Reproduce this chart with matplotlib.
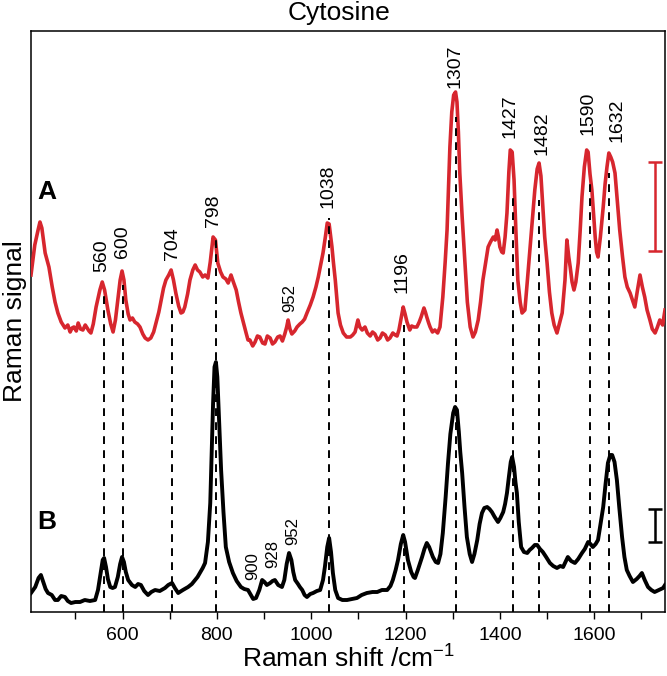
import numpy as np
import matplotlib
matplotlib.use('Agg')
import matplotlib.pyplot as plt

plt.rcParams['font.family'] = ['Liberation Sans', 'DejaVu Sans']
plt.rcParams['mathtext.default'] = 'regular'

# ── 데이터 (그림에서 읽은 값, 임의 단위) ─────────────────────────
shift_a = [406, 414, 421, 425, 429, 436, 444, 451, 457, 463, 470, 478, 484, 489,
           493, 497, 502, 506, 511, 516, 521, 525, 529, 533, 538, 544, 552, 557,
           562, 569, 575, 580, 585, 590, 595, 599, 603, 607, 612, 616, 621, 626,
           632, 637, 643, 648, 654, 660, 666, 671, 677, 682, 687, 692, 698, 703,
           708, 713, 719, 724, 728, 732, 738, 743, 749, 754, 759, 764, 770, 775,
           781, 786, 792, 797, 802, 808, 813, 819, 824, 830, 835, 841, 846, 851,
           857, 862, 866, 870, 876, 881, 886, 891, 897, 902, 907, 913, 918, 923,
           929, 934, 939, 944, 948, 951, 955, 959, 965, 970, 976, 981, 986, 991,
           998, 1004, 1010, 1015, 1020, 1025, 1030, 1034, 1038, 1044, 1047, 1051,
           1054, 1057, 1062, 1068, 1075, 1083, 1088, 1093, 1099, 1103, 1108, 1114,
           1119, 1125, 1130, 1135, 1141, 1146, 1151, 1157, 1162, 1167, 1173, 1178,
           1182, 1186, 1191, 1195, 1199, 1203, 1209, 1213, 1218, 1224, 1229, 1233,
           1239, 1242, 1245, 1249, 1252, 1257, 1262, 1268, 1273, 1279, 1284, 1288,
           1291, 1294, 1298, 1302, 1306, 1309, 1312, 1315, 1320, 1326, 1331, 1337,
           1343, 1348, 1354, 1359, 1364, 1370, 1375, 1380, 1386, 1390, 1394, 1397,
           1400, 1404, 1407, 1411, 1415, 1419, 1422, 1426, 1430, 1434, 1438, 1443,
           1447, 1453, 1458, 1464, 1469, 1474, 1479, 1483, 1487, 1491, 1495, 1500,
           1505, 1510, 1515, 1521, 1526, 1532, 1535, 1538, 1542, 1546, 1549, 1553,
           1557, 1561, 1566, 1570, 1574, 1579, 1584, 1587, 1591, 1595, 1599, 1602,
           1605, 1608, 1613, 1619, 1623, 1627, 1631, 1635, 1639, 1644, 1649, 1654,
           1660, 1665, 1670, 1676, 1681, 1686, 1691, 1697, 1702, 1707, 1712, 1718,
           1723, 1729, 1734, 1739, 1745, 1750]
signal_a = [337, 367, 382, 390, 384, 359, 345, 325, 310, 299, 290, 284, 287, 280,
            284, 285, 281, 289, 283, 282, 287, 284, 281, 279, 288, 305, 322, 330,
            322, 302, 288, 280, 292, 312, 332, 341, 332, 312, 298, 292, 294, 290,
            288, 285, 278, 274, 272, 274, 280, 289, 300, 312, 324, 332, 337, 342,
            332, 319, 306, 299, 300, 305, 318, 332, 342, 347, 342, 340, 335, 337,
            334, 350, 375, 372, 349, 340, 335, 333, 329, 337, 330, 322, 310, 299,
            288, 279, 272, 272, 266, 270, 276, 275, 269, 268, 276, 274, 268, 270,
            275, 276, 271, 278, 285, 292, 283, 278, 281, 285, 288, 290, 293, 299,
            307, 315, 325, 335, 347, 359, 375, 389, 388, 365, 350, 332,
            315, 299, 287, 279, 275, 275, 277, 280, 292, 285, 282, 285,
            279, 276, 280, 278, 272, 274, 279, 277, 272, 274, 279, 277,
            276, 282, 295, 305, 298, 290, 282, 286, 285, 285, 290, 295,
            304, 300, 295, 289, 285, 280, 282, 279, 285, 315, 350, 382,
            425, 465, 500, 517, 520, 510, 480, 439, 395, 349, 310, 285,
            275, 280, 292, 310, 332, 350, 365, 370, 375, 372, 382, 375,
            365, 360, 359, 375, 399, 440, 462, 460, 432, 380, 332, 310,
            299, 302, 330, 365, 395, 422, 443, 449, 436, 405, 375, 349,
            320, 299, 287, 279, 288, 299, 315, 332, 372, 355, 345, 330,
            322, 330, 349, 380, 415, 445, 462, 460, 438, 422, 395, 375,
            360, 355, 375, 405, 428, 445, 459, 455, 450, 439, 410, 382,
            355, 335, 325, 319, 312, 305, 320, 337, 325, 315, 302, 292,
            283, 279, 285, 292, 287, 302]

shift_b = [406, 415, 422, 427, 432, 437, 442, 450, 457, 463, 470, 478, 484, 491,
           500, 510, 520, 531, 542, 548, 554, 558, 561, 565, 569, 574, 579, 584,
           590, 595, 599, 603, 607, 612, 620, 627, 633, 639, 646, 654, 661, 669,
           679, 690, 697, 705, 711, 718, 728, 739, 747, 754, 759, 764, 770, 775,
           781, 786, 789, 792, 795, 798, 801, 804, 809, 814, 819, 826, 834, 842,
           851, 858, 866, 872, 877, 883, 890, 896, 901, 906, 913, 918, 923, 930,
           938, 943, 948, 953, 958, 962, 966, 972, 976, 981, 986, 991, 998, 1004,
           1012, 1019, 1025, 1029, 1034, 1038, 1042, 1046, 1051, 1057, 1066, 1076,
           1086, 1097, 1107, 1118, 1130, 1140, 1150, 1161, 1168, 1173, 1179, 1184,
           1190, 1195, 1199, 1205, 1212, 1217, 1220, 1226, 1235, 1240, 1245, 1250,
           1258, 1264, 1269, 1274, 1279, 1285, 1290, 1295, 1301, 1305, 1309, 1313,
           1316, 1320, 1325, 1330, 1336, 1341, 1346, 1352, 1357, 1362, 1367, 1373,
           1378, 1383, 1389, 1396, 1401, 1407, 1411, 1415, 1419, 1423, 1426, 1430,
           1433, 1436, 1440, 1445, 1451, 1458, 1463, 1468, 1474, 1479, 1485, 1491,
           1498, 1506, 1513, 1521, 1528, 1534, 1539, 1544, 1551, 1559, 1566, 1574,
           1580, 1587, 1592, 1597, 1603, 1608, 1613, 1619, 1624, 1629, 1634, 1638,
           1643, 1648, 1653, 1659, 1664, 1669, 1675, 1682, 1690, 1696, 1701, 1707,
           1714, 1721, 1728, 1737, 1746, 1750]
signal_b = [19, 25, 34, 37, 30, 23, 19, 17, 12, 12, 16, 15, 11, 9,
            10, 10, 12, 11, 12, 22, 40, 52, 54, 45, 33, 25, 24, 25,
            35, 48, 55, 50, 40, 32, 27, 25, 28, 27, 21, 17, 20, 22,
            21, 24, 27, 29, 24, 19, 22, 25, 28, 32, 35, 39, 44, 49,
            70, 109, 160, 209, 245, 250, 235, 200, 142, 100, 65, 50, 39, 31,
            25, 23, 22, 17, 13, 14, 22, 32, 30, 27, 29, 31, 32, 27,
            25, 32, 48, 59, 52, 40, 32, 28, 25, 22, 17, 15, 18, 19,
            21, 22, 32, 45, 65, 74, 60, 39, 22, 14, 12, 12,
            13, 14, 17, 19, 20, 20, 22, 22, 26, 32, 42, 52,
            68, 77, 70, 52, 40, 35, 34, 42, 55, 63, 69, 65,
            55, 50, 49, 58, 79, 115, 149, 178, 199, 205, 202, 180,
            160, 139, 105, 75, 58, 50, 58, 72, 88, 99, 104, 105,
            103, 100, 95, 90, 94, 100, 108, 119, 135, 150, 155, 145,
            130, 119, 90, 65, 60, 59, 62, 64, 67, 67, 63, 60,
            55, 49, 46, 44, 46, 45, 50, 55, 51, 49, 53, 59,
            63, 70, 68, 65, 68, 72, 87, 105, 128, 149, 157, 157,
            150, 132, 105, 75, 55, 42, 36, 30, 33, 36, 39, 32,
            25, 22, 20, 22, 24, 27]

# 점선으로 표시한 피크 (A 스펙트럼 라벨)
peaks     = [560, 600, 704, 798, 1038, 1196, 1307, 1427, 1482, 1590, 1632]
peak_tops = [319, 327, 319, 377, 394, 287, 495, 415, 412, 432, 439]

# 작은 라벨
small_a = [952]
small_b = [900, 928, 952]

# 스케일 바 (하단, 상단)
bar_a = [361, 450]
bar_b = [70, 103]

# ── 라벨 위치 (레이아웃) ─────────────────────────────────────────
peak_lbl_x  = [556, 599, 707, 792, 1036, 1192, 1305, 1422, 1489, 1587, 1648]
peak_lbl_y  = [340, 354, 352, 385, 404, 319, 524, 474, 457, 477, 470]
small_a_x   = [955]
small_a_y   = [300]
small_b_x   = [877, 919, 960]
small_b_y   = [32, 44, 67]

RED = '#d7262e'

fig = plt.figure(figsize=(6.67, 6.76), dpi=100)
ax = fig.add_axes([31/667, 1 - 612/676, 634/667, 581/676])

ax.plot(shift_a, signal_a, color=RED, lw=2.6, zorder=3)
ax.plot(shift_b, signal_b, color='black', lw=2.8, zorder=3)

for p, top in zip(peaks, peak_tops):
    ax.plot([p, p], [0, top], color='black', lw=1.4,
            ls=(0, (4, 3.2)), zorder=4)

for p, x, y in zip(peaks, peak_lbl_x, peak_lbl_y):
    ax.text(x, y, str(p), rotation=90, ha='center', va='bottom', fontsize=14)
for p, x, y in zip(small_a, small_a_x, small_a_y):
    ax.text(x, y, str(p), rotation=90, ha='center', va='bottom', fontsize=12)
for p, x, y in zip(small_b, small_b_x, small_b_y):
    ax.text(x, y, str(p), rotation=90, ha='center', va='bottom', fontsize=12)

# 스케일 바
for (lo, hi), c in [(bar_a, RED), (bar_b, 'black')]:
    ax.errorbar(1729, (lo + hi) / 2, yerr=(hi - lo) / 2, color=c,
                lw=1.8, capsize=5, capthick=1.8)

ax.text(420, 408, 'A', fontsize=19, fontweight='bold', ha='left', va='bottom')
ax.text(420, 78, 'B', fontsize=19, fontweight='bold', ha='left', va='bottom')

ax.set_xlim(406, 1750)
ax.set_ylim(0, 581)
ax.set_xticks(np.arange(600, 1601, 200))
ax.set_xticks(np.arange(500, 1701, 200), minor=True)
ax.tick_params(axis='x', which='both', direction='out', length=5,
               width=1, labelsize=14, pad=6)
ax.set_yticks([])
for s in ax.spines.values():
    s.set_linewidth(1.1)

ax.set_xlabel('Raman shift /cm$^{-1}$', fontsize=19, labelpad=1)
ax.set_ylabel('Raman signal', fontsize=19, labelpad=3)
fig.text(339/667, 1 - 13/676, 'Cytosine', fontsize=19, ha='center', va='center')

fig.savefig('out.png', dpi=100)
